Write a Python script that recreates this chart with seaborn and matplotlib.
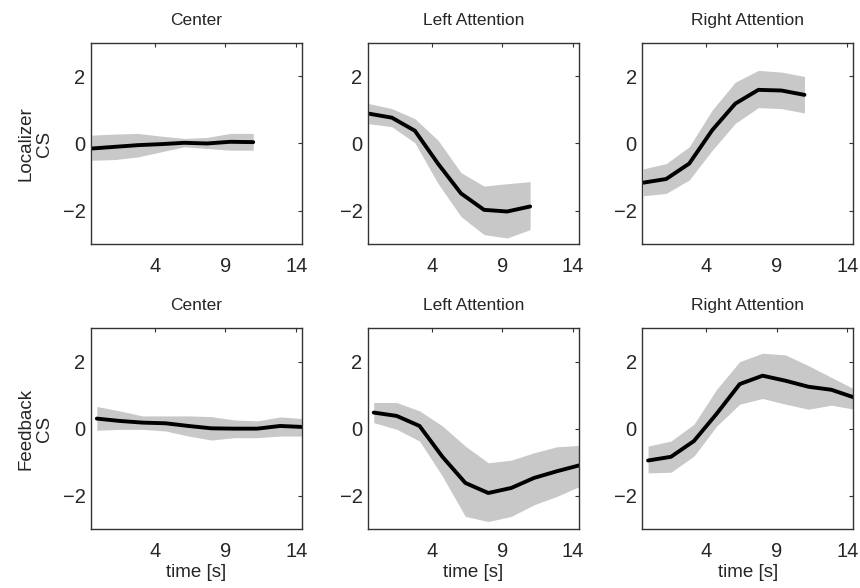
import numpy as np
import pandas as pd
import matplotlib
matplotlib.use("Agg")
import matplotlib.pyplot as plt
import seaborn as sns

# sample times (s) for the localizer (top) and feedback (bottom) rows
time_loc = [-0.45, 1.18, 2.81, 4.44, 6.07, 7.70, 9.33, 10.96]
time_fb = [-0.1, 1.52, 3.14, 4.76, 6.38, 8.0, 9.62, 11.24, 12.86, 14.48]

conditions = ["Center", "Left Attention", "Right Attention"]
row_labels = ["Localizer\nCS", "Feedback\nCS"]

# localizer CS: mean and band limits
loc_center_mean = [-0.15, -0.1, -0.05, -0.02, 0.02, 0.0, 0.05, 0.04]
loc_center_hi = [0.25, 0.28, 0.3, 0.22, 0.15, 0.18, 0.3, 0.3]
loc_center_lo = [-0.5, -0.48, -0.4, -0.25, -0.1, -0.15, -0.2, -0.2]

loc_left_mean = [0.89, 0.77, 0.38, -0.6, -1.49, -1.98, -2.03, -1.88]
loc_left_hi = [1.19, 1.04, 0.74, 0.1, -0.87, -1.27, -1.2, -1.14]
loc_left_lo = [0.59, 0.5, 0.02, -1.19, -2.18, -2.72, -2.82, -2.57]

loc_right_mean = [-1.17, -1.06, -0.6, 0.4, 1.19, 1.6, 1.58, 1.45]
loc_right_hi = [-0.76, -0.6, -0.1, 1.0, 1.83, 2.18, 2.13, 2.0]
loc_right_lo = [-1.56, -1.49, -1.09, -0.2, 0.6, 1.07, 1.04, 0.91]

# feedback CS: mean and band limits
fb_center_mean = [0.3, 0.23, 0.18, 0.16, 0.08, 0.01, 0.0, 0.0, 0.08, 0.05]
fb_center_hi = [0.66, 0.53, 0.38, 0.38, 0.38, 0.36, 0.26, 0.23, 0.35, 0.3]
fb_center_lo = [-0.05, -0.02, -0.02, -0.07, -0.22, -0.34, -0.27, -0.27, -0.22, -0.22]

fb_left_mean = [0.48, 0.38, 0.08, -0.84, -1.62, -1.92, -1.77, -1.47, -1.27, -1.09]
fb_left_hi = [0.78, 0.78, 0.53, 0.08, -0.52, -1.02, -0.94, -0.72, -0.54, -0.5]
fb_left_lo = [0.18, -0.02, -0.37, -1.42, -2.62, -2.77, -2.62, -2.27, -2.02, -1.72]

fb_right_mean = [-0.95, -0.84, -0.37, 0.45, 1.33, 1.58, 1.43, 1.25, 1.16, 0.93]
fb_right_hi = [-0.52, -0.37, 0.13, 1.18, 2.0, 2.25, 2.2, 1.88, 1.53, 1.18]
fb_right_lo = [-1.32, -1.3, -0.82, 0.08, 0.73, 0.9, 0.73, 0.58, 0.7, 0.58]

panels = [
    [(time_loc, loc_center_mean, loc_center_lo, loc_center_hi),
     (time_loc, loc_left_mean, loc_left_lo, loc_left_hi),
     (time_loc, loc_right_mean, loc_right_lo, loc_right_hi)],
    [(time_fb, fb_center_mean, fb_center_lo, fb_center_hi),
     (time_fb, fb_left_mean, fb_left_lo, fb_left_hi),
     (time_fb, fb_right_mean, fb_right_lo, fb_right_hi)],
]

sns.set_style("white")
plt.rcParams["font.family"] = ["Liberation Sans", "DejaVu Sans"]

fig = plt.figure(figsize=(8.6, 5.88), dpi=100)

lefts = [0.106, 0.428, 0.747]
bottoms = [0.585, 0.100]
w, h = 0.245, 0.342

for r in range(2):
    for c in range(3):
        ax = fig.add_axes([lefts[c], bottoms[r], w, h])
        t, m, lo, hi = panels[r][c]
        df = pd.DataFrame({"t": t, "mean": m, "lo": lo, "hi": hi})
        ax.fill_between(df["t"], df["lo"], df["hi"], color="#c8c8c8", lw=0)
        sns.lineplot(data=df, x="t", y="mean", ax=ax, color="black",
                     lw=2.8, errorbar=None)
        ax.set_xlim(-0.5, 14.4)
        ax.set_ylim(-3, 3)
        ax.set_xticks([4, 9, 14])
        ax.set_yticks([-2, 0, 2])
        ax.set_yticklabels(["\u22122", "0", "2"])
        ax.tick_params(direction="in", length=3, width=0.8, top=True,
                       right=True, labelsize=14.5, color="#333333")
        ax.tick_params(axis="x", pad=9.5)
        ax.tick_params(axis="y", pad=4)
        for sp in ax.spines.values():
            sp.set_color("#333333")
            sp.set_linewidth(1.0)
        ax.set_title(conditions[c], fontsize=12.5, pad=13)
        ax.set_xlabel("time [s]" if r == 1 else "", fontsize=13.5, labelpad=2)
        if c == 0:
            ax.set_ylabel(row_labels[r], fontsize=13.5, labelpad=7,
                          linespacing=1.15)
        else:
            ax.set_ylabel("")

fig.savefig("out.png", dpi=100)
